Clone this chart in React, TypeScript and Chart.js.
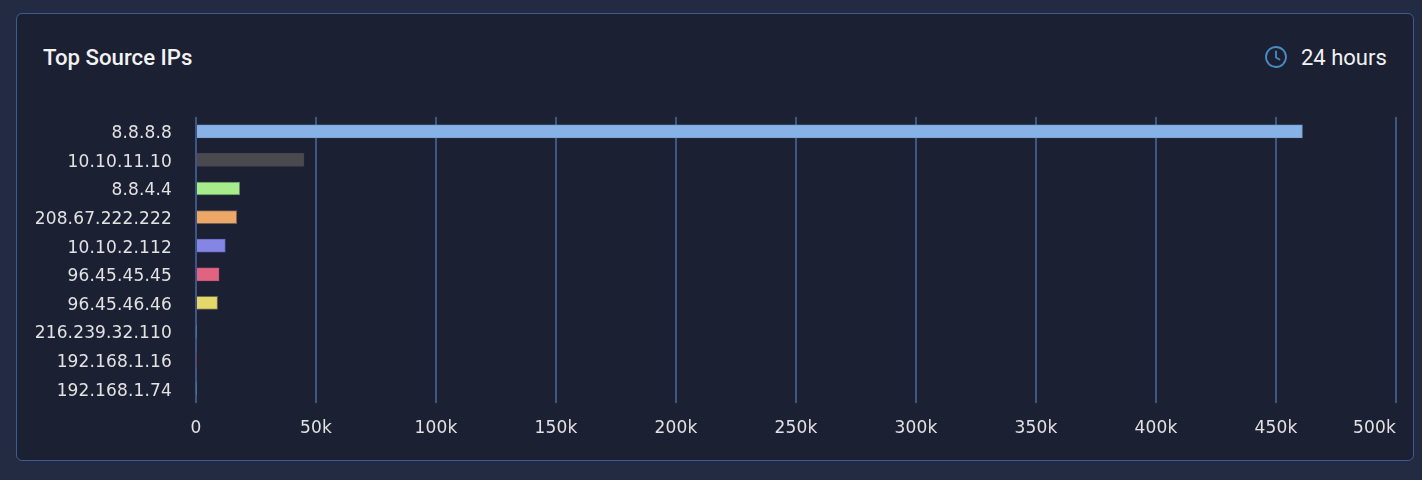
import React, { useEffect, useRef } from "react";
import { Chart, registerables } from "chart.js";

Chart.register(...registerables);

const categories = ["8.8.8.8", "10.10.11.10", "8.8.4.4", "208.67.222.222", "10.10.2.112", "96.45.45.45", "96.45.46.46", "216.239.32.110", "192.168.1.16", "192.168.1.74"];
const values = [461000, 45000, 18200, 17000, 12200, 9600, 9000, 200, 250, 200];
const barColors = ["#86b2e8", "#4a4a4e", "#a6ec8a", "#eda868", "#8585e5", "#e06482", "#e4d868", "#3f7f8f", "#7d3550", "#3f7f8f"];
const barEdges = ["#7c9ed0", "#46464a", "#5f8a62", "#6f5f58", "#6a6ac0", "#c25a75", "#6a6a58", "#3f7f8f", "#7d3550", "#3f7f8f"];
const GRID = "#3f5685";
const TEXT = "#e2e2e2";

const tickLabelPlugin = {
  id: "tickLabelTweaks",
  beforeDraw(chart: any) {
    chart.ctx.letterSpacing = "0.15px";
    const xItems = chart.scales.x.getLabelItems();
    const last = xItems[xItems.length - 1];
    if (last) last.options.textAlign = "right";
    if (!chart.$labelsShifted) {
      chart.$labelsShifted = true;
      for (const item of chart.scales.y.getLabelItems()) item.options.translation[1] += 2.5;
    }
  },
};

export default function App() {
  const ref = useRef<HTMLCanvasElement>(null);
  useEffect(() => {
    const chart = new Chart(ref.current!, {
      type: "bar",
      plugins: [tickLabelPlugin],
      data: {
        labels: categories,
        datasets: [{
          data: values,
          backgroundColor: barColors,
          borderColor: barEdges,
          borderWidth: 1,
          borderSkipped: "left",
          barThickness: 13,
        }],
      },
      options: {
        indexAxis: "y",
        animation: false,
        responsive: false,
        layout: { padding: { left: 20, right: 26, top: 117, bottom: 27 } },
        plugins: { legend: { display: false }, tooltip: { enabled: false } },
        scales: {
          x: {
            min: 0,
            max: 500000,
            afterFit: (s: any) => {
              s.height = 50;
              s.paddingLeft = 0;
              s.paddingRight = 0;
            },
            border: { display: false },
            grid: { color: GRID, lineWidth: 2, drawTicks: false },
            ticks: {
              stepSize: 50000,
              color: TEXT,
              maxRotation: 0,
              padding: 15,
              autoSkip: false,
              font: { family: "'DejaVu Sans'", size: 17 },
              callback: (v: any) => (v === 0 ? "0" : `${Number(v) / 1000}k`),
            },
          },
          y: {
            afterFit: (s: any) => { s.width = 176; },
            border: { display: false },
            grid: { display: false, drawTicks: false },
            ticks: {
              color: TEXT,
              padding: 24,
              autoSkip: false,
              font: { family: "'DejaVu Sans'", size: 17 },
            },
          },
        },
      },
    } as any);
    return () => chart.destroy();
  }, []);

  return (
    <div style={{ position: "fixed", inset: 0, width: 1422, height: 480, background: "#232b42", overflow: "hidden" }}>
      <div style={{ position: "absolute", left: 16, top: 13, width: 1396, height: 446, boxSizing: "content-box", background: "#1b2033", border: "1px solid #3f5a92", borderRadius: 6 }} />
      <div style={{ position: "absolute", left: 43, top: 43, fontFamily: "Roboto", fontWeight: 500, fontSize: 22.2, lineHeight: "28px", color: "#f2f2f2" }}>Top Source IPs</div>
      <svg style={{ position: "absolute", left: 1264, top: 45 }} width="24" height="24" viewBox="0 0 24 24" fill="none" stroke="#4a8cc4" strokeWidth="1.8" strokeLinecap="round">
        <circle cx="12" cy="12" r="10" />
        <path d="M12 6.5V12.5L15.5 14.5" />
      </svg>
      <div style={{ position: "absolute", left: 1301, top: 44, fontFamily: "Roboto", fontWeight: 400, fontSize: 22, lineHeight: "28px", color: "#f2f2f2" }}>24 hours</div>
      <canvas ref={ref} width={1422} height={480} style={{ position: "absolute", left: 0, top: 0, width: 1422, height: 480 }} />
    </div>
  );
}
